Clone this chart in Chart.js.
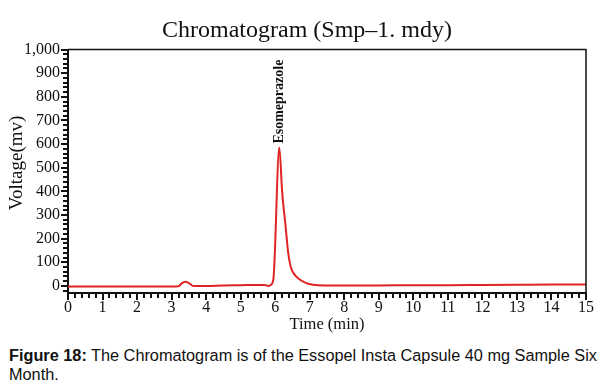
<!DOCTYPE html>
<html><head><meta charset="utf-8">
<script src="https://cdn.jsdelivr.net/npm/chart.js@4/dist/chart.umd.min.js"></script>
<style>
body{margin:0;background:#fff;width:610px;height:386px;overflow:hidden;position:relative}
#wrap{position:absolute;left:0;top:0;width:610px;height:335px}
#cap{position:absolute;left:9px;top:346px;width:598px;font-family:"Liberation Sans",Arial,sans-serif;font-size:16.3px;line-height:19px;color:#111}
</style></head><body>
<div id="wrap"><canvas id="c"></canvas></div>
<div id="cap"><b>Figure 18:</b> The Chromatogram is of the Essopel Insta Capsule 40 mg Sample Six Month.</div>
<script>
const chartTitle = 'Chromatogram (Smp\u20131. mdy)';
const xAxisTitle = 'Time (min)';
const yAxisTitle = 'Voltage(mv)';
const peakLabel = 'Esomeprazole';
const timeMin = [0, 0.5, 1, 1.5, 2, 2.5, 3, 3.2, 3.3, 3.4, 3.5, 3.62, 4, 4.5, 5, 5.5, 5.7, 5.8, 5.88, 5.95, 6.12, 6.2, 6.3, 6.38, 6.45, 6.55, 6.7, 6.9, 7.1, 7.4, 8, 9, 10, 11, 12, 13, 14, 15];
const voltage = [-2, -2, -2, -2, -2, -2, -2, -1, 12, 18, 12, 0, 0, 2, 3, 4, 4, 0, 5, 32, 585, 400, 254, 135, 80, 50, 28, 12, 5, 2, 2, 2, 3, 3, 4, 5, 6, 6];
const xTickLabels = [0,1,2,3,4,5,6,7,8,9,10,11,12,13,14,15];
const yTickLabels = [0,100,200,300,400,500,600,700,800,900,1000];

const serif = '"Liberation Serif","Times New Roman",serif';
const ink = '#111';

const decor = {
  id: 'decor',
  afterDraw(chart) {
    const {ctx, chartArea: a, scales: {x, y}} = chart;
    ctx.save();
    ctx.strokeStyle = ink;
    ctx.fillStyle = ink;
    ctx.lineWidth = 1.5;
    ctx.beginPath();
    ctx.moveTo(a.left, a.top); ctx.lineTo(a.right, a.top); ctx.lineTo(a.right, a.bottom);
    ctx.stroke();
    ctx.lineWidth = 2;
    ctx.beginPath();
    for (let i = 0; i <= 75; i++) {
      const px = Math.round(x.getPixelForValue(i * 0.2));
      const len = i % 5 === 0 ? 7 : 5;
      ctx.moveTo(px, a.bottom); ctx.lineTo(px, a.bottom + len);
    }
    for (let v = -20; v <= 1000; v += 20) {
      const py = Math.round(y.getPixelForValue(v));
      const len = v % 100 === 0 ? 7 : 5;
      ctx.moveTo(a.left, py); ctx.lineTo(a.left - len, py);
    }
    ctx.stroke();
    // chart title
    ctx.font = '24px ' + serif;
    ctx.textAlign = 'center';
    ctx.textBaseline = 'middle';
    ctx.fillText(chartTitle, 307, 31);
    // y axis title
    ctx.save();
    ctx.translate(17, 163);
    ctx.rotate(-Math.PI / 2);
    ctx.font = '19px ' + serif;
    ctx.fillText(yAxisTitle, 0, 0);
    ctx.restore();
    // peak label
    let idx = 0;
    voltage.forEach((v, i) => { if (v > voltage[idx]) idx = i; });
    const px = x.getPixelForValue(timeMin[idx]);
    const py = y.getPixelForValue(voltage[idx]);
    ctx.translate(px, py - 4);
    ctx.rotate(-Math.PI / 2);
    ctx.font = 'bold 14px ' + serif;
    ctx.textAlign = 'left';
    ctx.fillText(peakLabel, 0, 0);
    ctx.restore();
  }
};

new Chart(document.getElementById('c'), {
  type: 'line',
  data: {
    datasets: [{
      data: timeMin.map((t, i) => ({x: t, y: voltage[i]})),
      borderColor: '#e02424',
      borderWidth: 2,
      pointRadius: 0,
      cubicInterpolationMode: 'monotone',
      fill: false
    }]
  },
  options: {
    responsive: true,
    maintainAspectRatio: false,
    animation: false,
    layout: {padding: {left: 0, right: 24, top: 49.5, bottom: 0}},
    plugins: {
      legend: {display: false},
      tooltip: {enabled: false},
      title: {display: false}
    },
    scales: {
      x: {
        type: 'linear', min: 0, max: 15,
        afterBuildTicks: s => { s.ticks = xTickLabels.map(v => ({value: v})); },
        afterFit: s => { s.height = 42; },
        ticks: {color: ink, font: {family: serif, size: 16}, padding: 5, maxRotation: 0, autoSkip: false},
        grid: {display: false, drawTicks: false},
        border: {display: true, color: ink, width: 2},
        title: {display: true, text: xAxisTitle, color: ink, font: {family: serif, size: 16.5}, padding: {top: 0, bottom: 0}}
      },
      y: {
        min: -30, max: 1000,
        afterBuildTicks: s => { s.ticks = yTickLabels.map(v => ({value: v})); },
        afterFit: s => { s.width = 68; },
        ticks: {color: ink, font: {family: serif, size: 16}, padding: 8},
        grid: {display: false, drawTicks: false},
        border: {display: true, color: ink, width: 2},
        title: {display: false}
      }
    }
  },
  plugins: [decor]
});
</script>
</body></html>
